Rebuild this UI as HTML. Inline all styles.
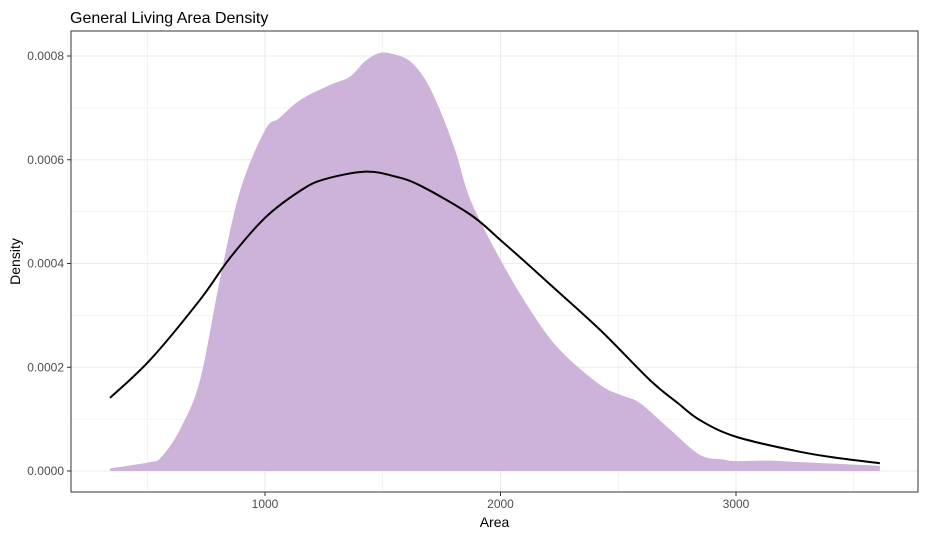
<!DOCTYPE html>
<html><head><meta charset="utf-8"><style>
body{margin:0;background:#fff;font-family:"Liberation Sans",sans-serif}
</style></head><body>
<svg id="chart" width="926" height="537" xmlns="http://www.w3.org/2000/svg"></svg>
<script>
const areaVals=[342,512,560,639,724,809,894,1000,1060,1149,1276,1360,1425,1488,1550,1616,1680,1743,1810,1873,2000,2127,2253,2423,2520,2592,2720,2847,2950,3000,3144,3272,3611];
const densityVals=[0.000005,0.000017,0.000027,0.00008,0.000175,0.00037,0.00054,0.000657,0.00068,0.000715,0.000744,0.00076,0.00079,0.000806,0.000803,0.00079,0.000755,0.000696,0.000615,0.000522,0.000407,0.00031,0.000233,0.000166,0.000145,0.000131,0.00008,0.000031,0.000022,0.000019,0.00002,0.000017,0.00001];
const normAreas=[342,512,724,850,1000,1149,1250,1425,1550,1660,1873,2000,2100,2212,2423,2635,2750,2847,3000,3272,3450,3611];
const normVals=[0.000141,0.000214,0.00033,0.00041,0.000488,0.00054,0.000562,0.000577,0.000568,0.00055,0.000494,0.000445,0.000405,0.000359,0.000272,0.000175,0.000132,0.000098,0.000066,0.000037,0.000024,0.000015];
const xTicks=[1000,2000,3000];
const yTicks=[0,0.0002,0.0004,0.0006,0.0008];
const yTickLabels=["0.0000","0.0002","0.0004","0.0006","0.0008"];
const NS="http://www.w3.org/2000/svg",svg=document.getElementById('chart');
const L=71,R=918,T=31,B=492;
const xs=v=>265+(v-1000)*0.2355;
const ys=v=>471-v*518750;
function el(t,a,p){const e=document.createElementNS(NS,t);for(const k in a)e.setAttribute(k,a[k]);(p||svg).appendChild(e);return e;}
function smooth(P){let d='';for(let i=0;i<P.length-1;i++){const p0=P[Math.max(0,i-1)],p1=P[i],p2=P[i+1],p3=P[Math.min(P.length-1,i+2)];
const c1=[p1[0]+(p2[0]-p0[0])/6,p1[1]+(p2[1]-p0[1])/6],c2=[p2[0]-(p3[0]-p1[0])/6,p2[1]-(p3[1]-p1[1])/6];
d+=' C'+c1+' '+c2+' '+p2;}return d;}
const title=el('text',{x:70,y:23,'font-size':16,fill:'#000'});title.textContent='General Living Area Density';


const panel=el('rect',{x:L,y:T,width:R-L,height:B-T,fill:'#fff'});


for(let v=500;v<=3500;v+=500){const g=el('line',{x1:xs(v),x2:xs(v),y1:T,y2:B,stroke:'#ebebeb','stroke-width':v%1000?0.6:1.1});

}
for(let v=0;v<=0.00085;v+=0.0001){const g=el('line',{x1:L,x2:R,y1:ys(v),y2:ys(v),stroke:'#ebebeb','stroke-width':Math.round(v*1e4)%2?0.6:1.1});

}
const AP=areaVals.map((a,i)=>[xs(a),ys(densityVals[i])]);
let d='M'+xs(areaVals[0])+','+ys(0)+' L'+AP[0]+smooth(AP)+' L'+xs(areaVals[areaVals.length-1])+','+ys(0)+'Z';
const area=el('path',{d:d,fill:'#cdb3d9'});


const NP=normAreas.map((a,i)=>[xs(a),ys(normVals[i])]);
const nl=el('path',{d:'M'+NP[0]+smooth(NP),fill:'none',stroke:'#000','stroke-width':2});


const fr=el('rect',{x:L,y:T,width:R-L,height:B-T,fill:'none',stroke:'#333','stroke-width':1});


xTicks.forEach(v=>{el('line',{x1:xs(v),x2:xs(v),y1:B,y2:B+4,stroke:'#333'});
const t=el('text',{x:xs(v),y:B+16,'font-size':12,fill:'#4d4d4d','text-anchor':'middle'});t.textContent=v;

});
yTicks.forEach((v,i)=>{el('line',{x1:L-4,x2:L,y1:ys(v),y2:ys(v),stroke:'#333'});
const t=el('text',{x:L-7,y:ys(v)+4,'font-size':12,fill:'#4d4d4d','text-anchor':'end'});t.textContent=yTickLabels[i];

});
const xt=el('text',{x:(L+R)/2,y:527,'font-size':14,'text-anchor':'middle'});xt.textContent='Area';


const yt=el('text',{x:0,y:0,'font-size':14,'text-anchor':'middle',transform:'translate(20,'+(T+B)/2+') rotate(-90)'});yt.textContent='Density';


</script></body></html>
